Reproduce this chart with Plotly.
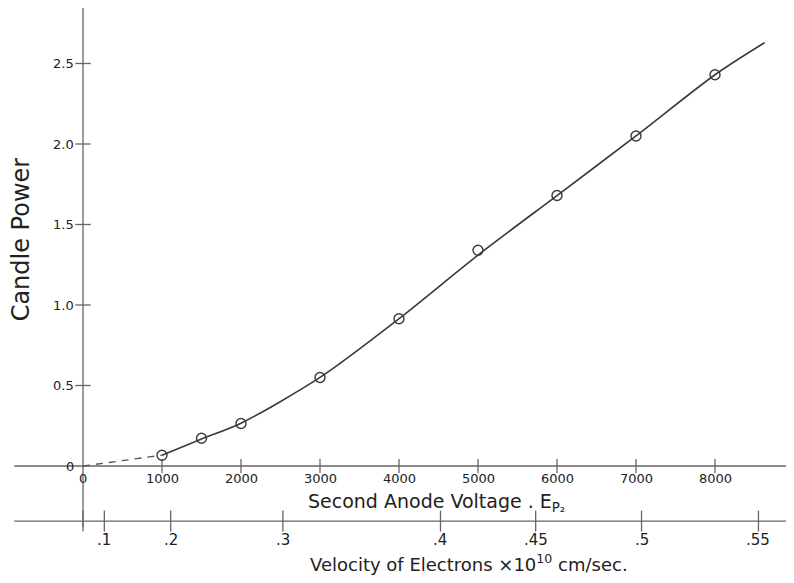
import plotly.graph_objects as go

# ---- data ----
volts = [1000, 1500, 2000, 3000, 4000, 5000, 6000, 7000, 8000]
candle_power = [0.067, 0.172, 0.264, 0.55, 0.915, 1.34, 1.68, 2.05, 2.43]

# hand-drawn smooth curve through the points
curve_volts = [1000, 1500, 2000, 3000, 4000, 5000, 6000, 7000, 8000, 8630]
curve_cp = [0.067, 0.168, 0.266, 0.55, 0.915, 1.31, 1.68, 2.05, 2.43, 2.63]

# dashed extrapolation to the origin
dash_volts = [0, 1000]
dash_cp = [0.0, 0.067]

# axis ticks
x_ticks = [1000, 2000, 3000, 4000, 5000, 6000, 7000, 8000]
x_tick_labels = ["0", "1000", "2000", "3000", "4000", "5000", "6000", "7000", "8000"]
x_label_pos = [0] + x_ticks
y_ticks = [0.5, 1.0, 1.5, 2.0, 2.5]
y_tick_labels = ["0", "0.5", "1.0", "1.5", "2.0", "2.5"]
y_label_pos = [0] + y_ticks

# velocity scale (x10^10 cm/sec) marked at the equivalent anode voltage
vel_tick_volts = [270, 1110, 2530, 4525, 5730, 7070, 8550]
vel_tick_labels = [".1", ".2", ".3", ".4", ".45", ".5", ".55"]

# ---- layout geometry ----
W, H = 794, 583
ORIGIN_PX = (75, 458)
PX_PER_VOLT = 0.079
PX_PER_CP = 161.0
X_RANGE = [-ORIGIN_PX[0] / PX_PER_VOLT, (W - ORIGIN_PX[0]) / PX_PER_VOLT]
Y_RANGE = [-(H - ORIGIN_PX[1]) / PX_PER_CP, ORIGIN_PX[1] / PX_PER_CP]
VEL_AXIS_Y = -0.342
AXIS_LEFT = -870

INK = "#222222"
AXIS_INK = "#666666"
FONT = "DejaVu Sans"

fig = go.Figure()

# axis lines
fig.add_trace(go.Scatter(x=[AXIS_LEFT, X_RANGE[1]], y=[0, 0], mode="lines",
                         line=dict(color=AXIS_INK, width=1.3), hoverinfo="skip"))
fig.add_trace(go.Scatter(x=[0, 0], y=[-0.38, Y_RANGE[1]], mode="lines",
                         line=dict(color=AXIS_INK, width=1.3), hoverinfo="skip"))
fig.add_trace(go.Scatter(x=[AXIS_LEFT, X_RANGE[1]], y=[VEL_AXIS_Y, VEL_AXIS_Y], mode="lines",
                         line=dict(color=AXIS_INK, width=1.3), hoverinfo="skip"))

# tick marks
fig.add_trace(go.Scatter(x=x_ticks, y=[0] * len(x_ticks), mode="markers",
                         marker=dict(symbol="line-ns", size=10, line=dict(color=AXIS_INK, width=1.3)),
                         hoverinfo="skip"))
fig.add_trace(go.Scatter(x=[0] * len(y_ticks), y=y_ticks, mode="markers",
                         marker=dict(symbol="line-ew", size=11, line=dict(color=AXIS_INK, width=1.3)),
                         hoverinfo="skip"))
fig.add_trace(go.Scatter(x=vel_tick_volts + [0], y=[VEL_AXIS_Y] * (len(vel_tick_volts) + 1), mode="markers",
                         marker=dict(symbol="line-ns", size=15, line=dict(color=AXIS_INK, width=1.3)),
                         hoverinfo="skip"))

# dashed extrapolation
fig.add_trace(go.Scatter(x=dash_volts, y=dash_cp, mode="lines",
                         line=dict(color="#555555", width=1.3, dash="7px,6px"), hoverinfo="skip"))
# smooth curve
fig.add_trace(go.Scatter(x=curve_volts, y=curve_cp, mode="lines",
                         line=dict(color="#3a3a3a", width=1.6, shape="spline", smoothing=0.8),
                         hoverinfo="skip"))
# measured points
fig.add_trace(go.Scatter(x=volts, y=candle_power, mode="markers",
                         marker=dict(symbol="circle-open", size=10, color="#3a3a3a",
                                     line=dict(color="#3a3a3a", width=1.4))))

annotations = []
for v, t in zip(x_label_pos, x_tick_labels):
    annotations.append(dict(x=v, y=0, text=t, showarrow=False, yshift=-12, borderpad=0,
                            font=dict(family=FONT, size=13, color=INK)))
for c, t in zip(y_label_pos, y_tick_labels):
    annotations.append(dict(x=0, y=c, text=t, showarrow=False, xanchor="right", xshift=-7,
                            font=dict(family=FONT, size=13, color=INK)))
for v, t in zip(vel_tick_volts, vel_tick_labels):
    annotations.append(dict(x=v, y=VEL_AXIS_Y, text=t, showarrow=False, yshift=-19,
                            font=dict(family=FONT, size=15, color=INK)))

annotations.append(dict(x=4470, y=-0.225, text="Second Anode Voltage . E<sub>P₂</sub>",
                        showarrow=False, borderpad=0, font=dict(family=FONT, size=19, color=INK)))
annotations.append(dict(x=4890, y=-0.60, text="Velocity of Electrons ×10<sup>10</sup> cm/sec.",
                        showarrow=False, font=dict(family=FONT, size=18, color=INK)))
annotations.append(dict(x=-780, y=1.41, text="Candle Power", textangle=-90,
                        showarrow=False, font=dict(family=FONT, size=24, color=INK)))

fig.update_layout(
    width=W, height=H, autosize=False,
    margin=dict(l=0, r=0, t=0, b=0),
    paper_bgcolor="white", plot_bgcolor="white",
    showlegend=False,
    xaxis=dict(range=X_RANGE, visible=False, showgrid=False, zeroline=False),
    yaxis=dict(range=Y_RANGE, visible=False, showgrid=False, zeroline=False),
    annotations=annotations,
)

fig.write_html("out.html")
